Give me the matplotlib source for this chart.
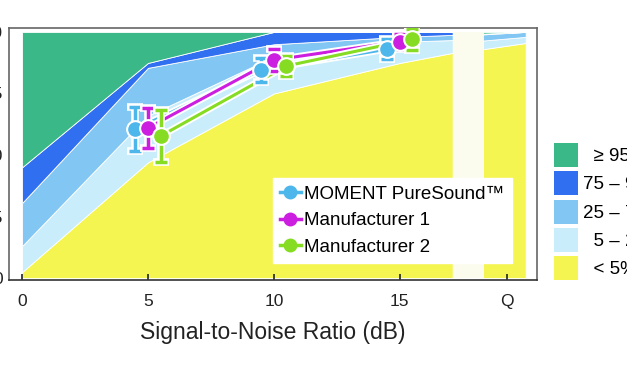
import matplotlib
matplotlib.use("Agg")
import matplotlib.pyplot as plt
import matplotlib.patheffects as pe
from matplotlib.lines import Line2D
from matplotlib.patches import Patch

plt.rcParams['font.family'] = ['Liberation Sans', 'DejaVu Sans']

# Bandas de probabilidade (bordas superiores acumuladas, em %)
snr_main = [0, 5, 10, 15, 17.1]
lt5_top = [2.4, 47, 75, 87.4, 91.5]
b5_25_top = [13, 66, 90, 96, 96.7]
b25_75_top = [30.5, 85.4, 95, 98, 98.8]
b75_95_top = [45, 87.4, 100, 100, 100]

snr_q = [18.3, 20]
lt5_q = [93, 95.5]
b5_25_q = [96.5, 98]
b25_75_q = [99, 100]
b75_95_q = [99.3, 100]

band_labels = ["  \u2265 95%", "75 \u2013 95%", "25 \u2013 75%", "  5 \u2013 25%", "  < 5%"]
band_colors = ['#3bb887', '#2f6ff0', '#82c6f3', '#c9edfb', '#f5f552']

# Séries medidas
series_names = ["MOMENT PureSound\u2122", "Manufacturer 1", "Manufacturer 2"]
series_colors = ['#4db6ea', '#cc1ee0', '#86dc22']
series_x = [[4.5, 9.5, 14.5], [5.0, 10.0, 15.0], [5.5, 10.5, 15.5]]
series_y = [[60.5, 84.6, 93.0], [61.0, 88.6, 96.1], [57.7, 86.2, 97.0]]
series_err = [[9.0, 5.0, 4.0], [8.0, 4.6, 3.0], [10.5, 4.0, 4.3]]

xtick_pos = [0, 5, 10, 15, 19.25]
xtick_labels = ['0', '5', '10', '15', 'Q']
ytick_pos = [0, 25, 50, 75, 100]
ytick_labels = ['0', '25', '50', '75', '100']

fig = plt.figure(figsize=(6.27, 3.76), dpi=100)
ax = fig.add_axes([9 / 627, 1 - 280 / 376, 528 / 627, 252 / 376])


def draw_bands(x, tops):
    lower = [0] * len(x)
    for top, color in zip(tops, band_colors[::-1]):
        ax.fill_between(x, lower, top, color=color, edgecolor='white', linewidth=0.6, zorder=1)
        lower = top
    ax.fill_between(x, lower, [100] * len(x), color=band_colors[0], edgecolor='white', linewidth=0.6, zorder=1)


draw_bands(snr_main, [lt5_top, b5_25_top, b25_75_top, b75_95_top])
draw_bands(snr_q, [lt5_q, b5_25_q, b25_75_q, b75_95_q])
ax.fill_between([snr_main[-1], snr_q[0]], 0, 100, color='#fcfcee', linewidth=0, zorder=1)

halo = [pe.withStroke(linewidth=5, foreground='white')]
for xs, ys, color in zip(series_x, series_y, series_colors):
    ln, = ax.plot(xs, ys, color=color, lw=2.2, zorder=3)
    ln.set_path_effects(halo)

# barras de erro com contorno branco
for xs, ys, es, color in zip(series_x, series_y, series_err, series_colors):
    ax.errorbar(xs, ys, yerr=es, fmt='o', ms=12.5, color='white', mec='white',
                elinewidth=5.5, capsize=5.5, capthick=5.5, zorder=4)
    ax.errorbar(xs, ys, yerr=es, fmt='o', ms=9.5, color=color, mec=color,
                elinewidth=2.5, capsize=4, capthick=2.5, zorder=4)

ax.set_xlim(-0.52, 20.45)
ax.set_ylim(-0.8, 101.6)
ax.set_xticks(xtick_pos)
ax.set_xticklabels(xtick_labels)
ax.set_yticks(ytick_pos)
ax.set_yticklabels(ytick_labels)
ax.tick_params(axis='x', direction='in', length=4, width=1.2, pad=10, labelsize=12.5, colors='#222222')
ax.tick_params(axis='y', length=0, pad=4.5, labelsize=12.5, colors='#222222')
for sp in ax.spines.values():
    sp.set_color('#666666')
    sp.set_linewidth(1.2)
ax.spines['bottom'].set_color('#333333')
ax.set_xlabel("Signal-to-Noise Ratio (dB)", fontsize=16.5, labelpad=9, color='#222222')

handles = [Line2D([], [], color=c, marker='o', ms=9, lw=2.5) for c in series_colors]
ax.legend(handles, series_names, loc='lower right', bbox_to_anchor=(0.953, 0.067),
          borderaxespad=0, frameon=True, fancybox=False, facecolor='white', edgecolor='white',
          framealpha=1, fontsize=13.5, handlelength=1.1, handletextpad=0.2,
          labelspacing=0.5, borderpad=0.4)

band_handles = [Patch(facecolor=c, edgecolor='none') for c in band_colors]
fig.legend(band_handles, band_labels, loc='upper left', bbox_to_anchor=(554 / 627, 1 - 143 / 376),
           frameon=False, fontsize=13.5, handlelength=1.3, handleheight=1.58,
           handletextpad=0.25, labelspacing=0.24, borderpad=0, borderaxespad=0)

fig.savefig('out.png', dpi=100)
